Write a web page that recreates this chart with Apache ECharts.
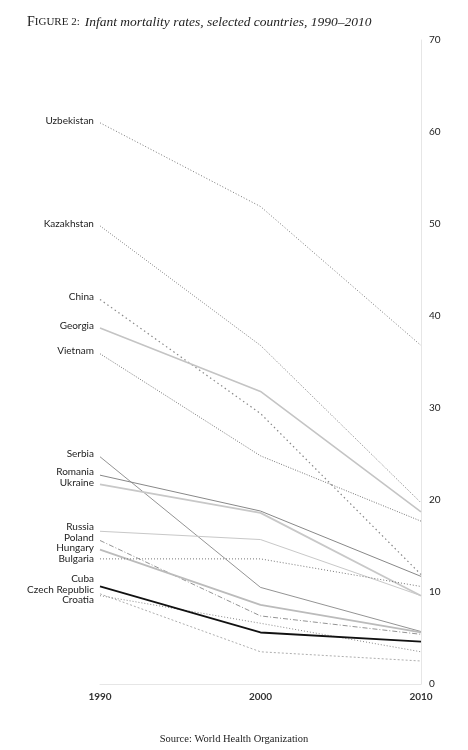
<!DOCTYPE html>
<html>
<head>
<meta charset="utf-8">
<script src="https://cdn.jsdelivr.net/npm/echarts@6/dist/echarts.min.js"></script>
<style>
  html, body { margin: 0; padding: 0; background: #fff; }
  #chart { width: 468px; height: 750px; }
</style>
</head>
<body>
<div id="chart"></div>
<script>
var years = ['1990', '2000', '2010'];
var countries = ['Uzbekistan', 'Kazakhstan', 'China', 'Georgia', 'Vietnam', 'Serbia', 'Romania', 'Ukraine',
  'Russia', 'Poland', 'Hungary', 'Bulgaria', 'Cuba', 'Czech Republic', 'Croatia'];
var v1990 = [61, 49.8, 41.8, 38.7, 35.9, 24.7, 22.7, 21.7, 16.6, 15.6, 14.6, 13.6, 10.6, 9.8, 9.6];
var v2000 = [51.9, 36.8, 29.4, 31.8, 24.8, 10.5, 18.8, 18.6, 15.7, 7.4, 8.6, 13.6, 5.6, 3.5, 6.6];
var v2010 = [36.8, 19.7, 11.9, 18.7, 17.7, 5.7, 11.7, 9.6, 9.6, 5.4, 5.6, 10.6, 4.6, 2.5, 3.5];

// line look per country: colour, width, dash
var styles = [
  ['#777', 1, [1, 2]],
  ['#666', 0.8, [1, 1.5]],
  ['#888', 1.2, [1.5, 3]],
  ['#c4c4c4', 1.6, 'solid'],
  ['#666', 0.9, [1, 1.5]],
  ['#777', 0.8, 'solid'],
  ['#888', 1, 'solid'],
  ['#c8c8c8', 1.8, 'solid'],
  ['#c8c8c8', 1, 'solid'],
  ['#888', 0.9, [5, 2, 1, 2]],
  ['#bbb', 1.8, 'solid'],
  ['#777', 1, [1, 2]],
  ['#111', 1.8, 'solid'],
  ['#999', 0.8, [2, 2]],
  ['#888', 1, [1, 2]]
];

var sans = 'Lato, "Open Sans", sans-serif';
var serif = '"Liberation Serif", "DejaVu Serif", serif';

var chart = echarts.init(document.getElementById('chart'), null, { renderer: 'canvas' });

function buildOption(offsets) {
  var series = countries.map(function (name, i) {
    var vals = [v1990[i], v2000[i], v2010[i]];
    return {
      name: name,
      type: 'line',
      symbol: 'circle',
      symbolSize: 0.1,
      showSymbol: true,
      silent: true,
      z: i === 12 ? 5 : 2,
      itemStyle: { color: styles[i][0] },
      lineStyle: { color: styles[i][0], width: styles[i][1], type: styles[i][2] },
      label: { show: false },
      data: vals.map(function (v, k) {
        if (k > 0) return v;
        return {
          value: v,
          label: {
            show: true,
            position: 'left',
            distance: 6,
            offset: [0, offsets ? offsets[i] : 0],
            formatter: name,
            fontFamily: sans,
            fontSize: 10,
            color: '#222'
          }
        };
      })
    };
  });

  return {
    animation: false,
    backgroundColor: '#fff',
    title: [{
      text: '{a|F}{b|IGURE 2:} {c|Infant mortality rates, selected countries, 1990\u20132010}',
      left: 22,
      top: 8,
      textStyle: {
        fontWeight: 'normal',
        rich: {
          a: { fontFamily: serif, fontSize: 14, fontWeight: 'normal', color: '#222' },
          b: { fontFamily: serif, fontSize: 11, fontWeight: 'normal', color: '#222' },
          c: { fontFamily: serif, fontSize: 13.5, fontStyle: 'italic', fontWeight: 'normal', color: '#222' }
        }
      }
    }, {
      text: 'Source: World Health Organization',
      left: 'center',
      top: 729,
      textStyle: { fontFamily: serif, fontSize: 10.5, fontWeight: 'normal', color: '#222' }
    }],
    grid: { left: 100, right: 47, top: 40, bottom: 66 },
    xAxis: {
      type: 'category',
      data: years,
      boundaryGap: false,
      axisLine: { lineStyle: { color: '#e6e6e6', width: 1 } },
      axisTick: { show: false },
      axisLabel: { margin: 8, fontFamily: sans, fontSize: 10, fontWeight: 'bold', color: '#333' },
      splitLine: { show: false }
    },
    yAxis: {
      type: 'value',
      position: 'right',
      min: 0,
      max: 70,
      interval: 10,
      axisLine: { show: true, lineStyle: { color: '#e6e6e6', width: 1 } },
      axisTick: { show: false },
      axisLabel: { margin: 8, fontFamily: sans, fontSize: 10, color: '#222' },
      splitLine: { show: false }
    },
    series: series
  };
}

chart.setOption(buildOption(null));

// push the country names apart where they would overlap
var gap = 10.5;
var items = countries.map(function (n, i) {
  var y = chart.convertToPixel({ yAxisIndex: 0 }, v1990[i]);
  return { i: i, y: y, want: y - 2.5 };
}).sort(function (a, b) { return a.want - b.want; });

var clusters = items.map(function (it) { return [it]; });
function place(c) {
  var mean = c.reduce(function (s, it) { return s + it.want; }, 0) / c.length;
  var top = mean - (c.length - 1) * gap / 2;
  c.forEach(function (it, k) { it.pos = top + k * gap; });
}
clusters.forEach(place);
var merged = true;
while (merged) {
  merged = false;
  for (var k = 0; k < clusters.length - 1; k++) {
    var a = clusters[k], b = clusters[k + 1];
    if (b[0].pos - a[a.length - 1].pos < gap) {
      clusters.splice(k, 2, a.concat(b));
      place(clusters[k]);
      merged = true;
      break;
    }
  }
}
var offsets = [];
items.forEach(function (it) { offsets[it.i] = it.pos - it.y; });
chart.setOption(buildOption(offsets));
</script>
</body>
</html>
